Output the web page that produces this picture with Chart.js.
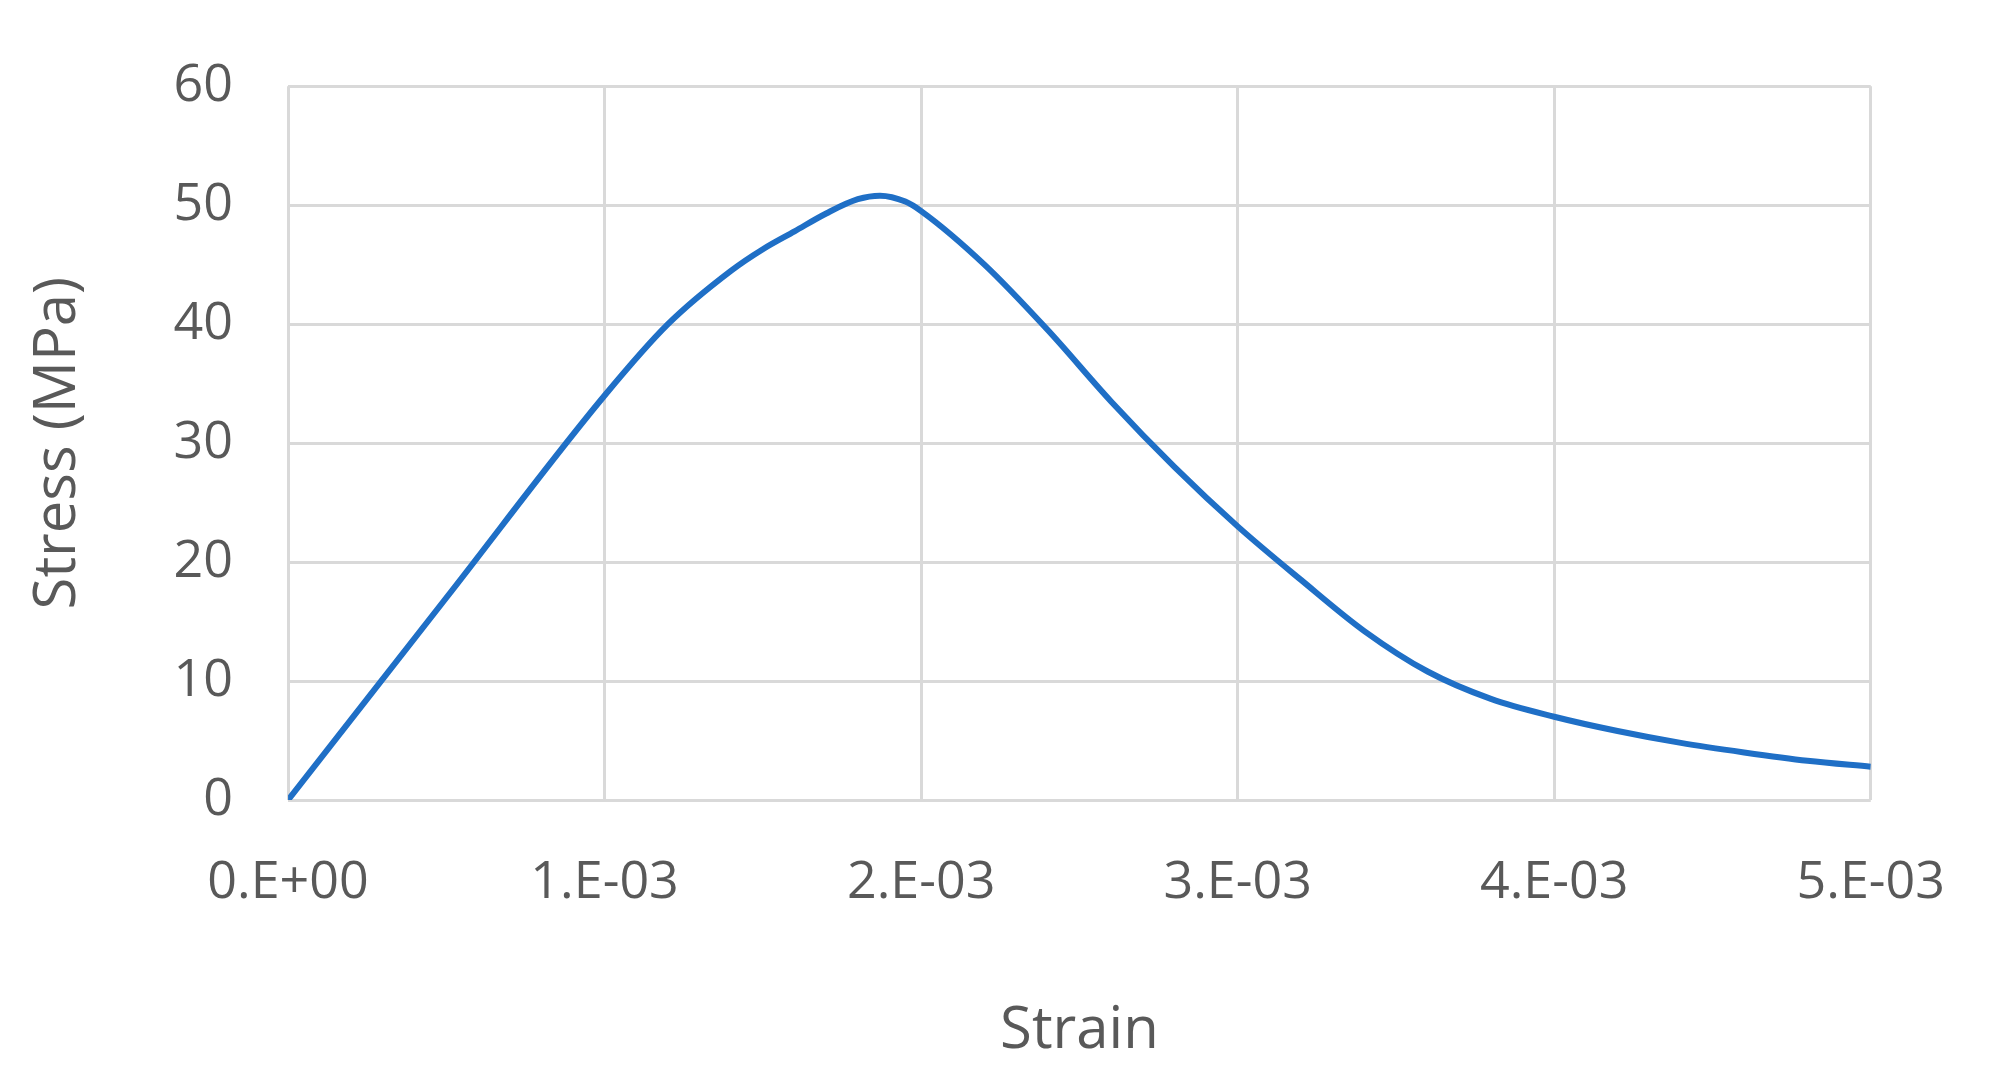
<!DOCTYPE html>
<html><head><meta charset="utf-8">
<script src="https://cdn.jsdelivr.net/npm/chart.js@4"></script>
<style>html,body{margin:0;background:#fff}#w{width:1997px;height:1080px}</style>
</head><body><div id="w"><canvas id="c"></canvas></div>
<script>
const strain=[0,0.5e-3,1.0e-3,1.2e-3,1.4e-3,1.5e-3,1.6e-3,1.7e-3,1.8e-3,1.87e-3,1.95e-3,2.0e-3,2.2e-3,2.4e-3,2.6e-3,2.8e-3,3.0e-3,3.2e-3,3.4e-3,3.6e-3,3.8e-3,4.0e-3,4.2e-3,4.4e-3,4.6e-3,4.8e-3,5.0e-3];
const stress=[0,17,34,40,44.5,46.3,47.8,49.3,50.5,50.8,50.3,49.5,45,39.5,33.5,28,23,18.5,14.2,10.8,8.5,7,5.8,4.8,4,3.3,2.8];
const xTicks=['0.E+00','1.E-03','2.E-03','3.E-03','4.E-03','5.E-03'];
const grey='#595959', font='"Open Sans", "Liberation Sans", sans-serif';
new Chart(document.getElementById('c'),{type:'scatter',
data:{datasets:[{data:strain.map((x,i)=>({x,y:stress[i]})),showLine:true,borderColor:'#1f6fc6',borderWidth:6,pointRadius:0,tension:0.4,cubicInterpolationMode:'monotone'}]},
options:{responsive:true,maintainAspectRatio:false,animation:false,
layout:{padding:{top:0,right:100,left:20,bottom:10}},
plugins:{legend:{display:false},tooltip:{enabled:false}},
scales:{
x:{type:'linear',min:0,max:5e-3,afterBuildTicks:a=>{a.ticks=[0,1,2,3,4,5].map(v=>({value:v*1e-3}))},
 ticks:{callback:(v)=>xTicks[Math.round(v*1000)],color:grey,font:{family:font,size:52},padding:52,maxRotation:0},
 grid:{color:'#d9d9d9',lineWidth:3,drawTicks:false},border:{display:false},
 title:{display:true,text:'Strain',color:grey,font:{family:font,size:58},padding:{top:30}}},
y:{min:0,max:60,ticks:{stepSize:10,color:grey,font:{family:font,size:52},padding:55},
 grid:{color:'#d9d9d9',lineWidth:3,drawTicks:false},border:{display:false},
 title:{display:true,text:'Stress (MPa)',color:grey,font:{family:font,size:58},padding:{bottom:25}}}
}}});
</script></body></html>
